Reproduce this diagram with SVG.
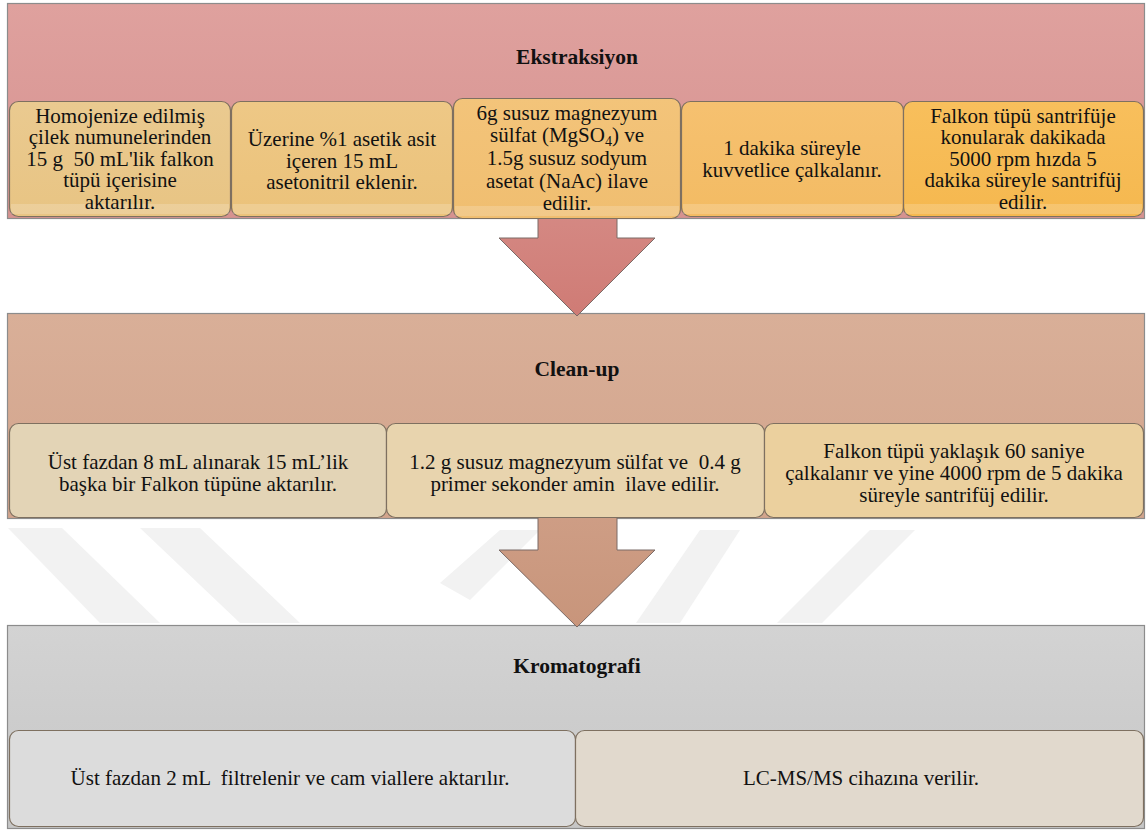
<svg xmlns="http://www.w3.org/2000/svg" width="1148" height="831" viewBox="0 0 1148 831">
<defs>
<linearGradient id="gBand1" x1="0" y1="0" x2="0" y2="1"><stop offset="0" stop-color="#DFA19E"/><stop offset="1" stop-color="#D69290"/></linearGradient>
<linearGradient id="gBand2" x1="0" y1="0" x2="0" y2="1"><stop offset="0" stop-color="#D9AF98"/><stop offset="1" stop-color="#D2A48C"/></linearGradient>
<linearGradient id="gBand3" x1="0" y1="0" x2="0" y2="1"><stop offset="0" stop-color="#D3D3D3"/><stop offset="1" stop-color="#C6C6C6"/></linearGradient>
<linearGradient id="gArr1" x1="0" y1="0" x2="0" y2="1"><stop offset="0" stop-color="#D8918C"/><stop offset="1" stop-color="#CF7B75"/></linearGradient>
<linearGradient id="gArr2" x1="0" y1="0" x2="0" y2="1"><stop offset="0" stop-color="#D0A088"/><stop offset="1" stop-color="#C8957B"/></linearGradient>
<linearGradient id="gb1" x1="0" y1="0" x2="0" y2="1"><stop offset="0" stop-color="#EACA90"/><stop offset="1" stop-color="#E8C483"/></linearGradient>
<linearGradient id="gb2" x1="0" y1="0" x2="0" y2="1"><stop offset="0" stop-color="#EEC886"/><stop offset="1" stop-color="#EBC27A"/></linearGradient>
<linearGradient id="gb3" x1="0" y1="0" x2="0" y2="1"><stop offset="0" stop-color="#F3C47A"/><stop offset="1" stop-color="#F0BE70"/></linearGradient>
<linearGradient id="gb4" x1="0" y1="0" x2="0" y2="1"><stop offset="0" stop-color="#F6C170"/><stop offset="1" stop-color="#F3BB63"/></linearGradient>
<linearGradient id="gb5" x1="0" y1="0" x2="0" y2="1"><stop offset="0" stop-color="#F8BF5C"/><stop offset="1" stop-color="#F5B84F"/></linearGradient>
</defs>
<style>
.band{stroke:#8C8C8C;stroke-width:1.2}
.box{stroke:#7E7060;stroke-width:1.2}
.arrow{stroke:#7A6A66;stroke-width:1}
.gloss{fill:#FFFFFF;opacity:0.18}
.t{font-family:"Liberation Serif","Times New Roman",serif;font-size:21px;fill:#111;text-anchor:middle;white-space:pre}
.h{font-family:"Liberation Serif","Times New Roman",serif;font-size:21.5px;font-weight:bold;fill:#111;text-anchor:middle}
.wm{fill:#F2F2F2}
</style>
<rect width="1148" height="831" fill="#FFFFFF"/>
<g id="watermark">
<polygon class="wm" points="8,528 62,528 160,623 100,623"/>
<polygon class="wm" points="140,528 200,528 300,623 240,623"/>
<polygon class="wm" points="440,583 500,530 540,530 470,600"/>
<polygon class="wm" points="636,623 700,530 740,530 680,623"/>
<polygon class="wm" points="777,623 870,530 915,530 822,623"/>
</g>
<g id="band-ekstraksiyon">
<rect class="band" x="7.5" y="3.5" width="1137" height="215" fill="url(#gBand1)"/>
<text class="h" x="577" y="64">Ekstraksiyon</text>
</g>
<g id="band-cleanup">
<rect class="band" x="7.5" y="313.5" width="1137" height="205" fill="url(#gBand2)"/>
<text class="h" x="577" y="376">Clean-up</text>
</g>
<g id="band-kromatografi">
<rect class="band" x="7.5" y="625.5" width="1137" height="203" fill="url(#gBand3)"/>
<text class="h" x="577" y="673">Kromatografi</text>
</g>
<g id="connectors">
<polygon class="arrow" points="538,150 617,150 617,238 655,238 577,316 499,238 538,238" fill="url(#gArr1)"/>
<polygon class="arrow" points="538,480 617,480 617,550 655,550 577,627 499,550 538,550" fill="url(#gArr2)"/>
</g>
<g id="box-e1">
<rect class="box" x="9.5" y="101.5" width="221" height="115" rx="9" fill="url(#gb1)"/>
<rect class="gloss" x="11" y="204" width="218" height="10"/>
<text class="t" xml:space="preserve"><tspan x="120" y="123">Homojenize edilmiş</tspan><tspan x="120" y="144">çilek numunelerinden</tspan><tspan x="120" y="166">15 g  50 mL'lik falkon</tspan><tspan x="120" y="187">tüpü içerisine</tspan><tspan x="120" y="209">aktarılır.</tspan></text>
</g>
<g id="box-e2">
<rect class="box" x="231.5" y="101.5" width="221" height="115" rx="9" fill="url(#gb2)"/>
<rect class="gloss" x="233" y="204" width="218" height="10"/>
<text class="t"><tspan x="342" y="146">Üzerine %1 asetik asit</tspan><tspan x="342" y="168">içeren 15 mL</tspan><tspan x="342" y="189">asetonitril eklenir.</tspan></text>
</g>
<g id="box-e3">
<rect class="box" x="453.5" y="98.5" width="227" height="120" rx="9" fill="url(#gb3)"/>
<rect class="gloss" x="455" y="206" width="224" height="10"/>
<text class="t"><tspan x="567" y="120">6g susuz magnezyum</tspan><tspan x="567" y="142">sülfat (MgSO<tspan font-size="14" baseline-shift="-4">4</tspan>) ve</tspan><tspan x="567" y="165">1.5g susuz sodyum</tspan><tspan x="567" y="188">asetat (NaAc) ilave</tspan><tspan x="567" y="210">edilir.</tspan></text>
</g>
<g id="box-e4">
<rect class="box" x="681.5" y="101.5" width="222" height="115" rx="9" fill="url(#gb4)"/>
<rect class="gloss" x="683" y="204" width="219" height="10"/>
<text class="t"><tspan x="792" y="155">1 dakika süreyle</tspan><tspan x="792" y="177">kuvvetlice çalkalanır.</tspan></text>
</g>
<g id="box-e5">
<rect class="box" x="903.5" y="101.5" width="240" height="115" rx="9" fill="url(#gb5)"/>
<rect class="gloss" x="905" y="204" width="237" height="10"/>
<text class="t"><tspan x="1023" y="123">Falkon tüpü santrifüje</tspan><tspan x="1023" y="144">konularak dakikada</tspan><tspan x="1023" y="166">5000 rpm hızda 5</tspan><tspan x="1023" y="187">dakika süreyle santrifüj</tspan><tspan x="1023" y="209">edilir.</tspan></text>
</g>
<g id="box-c1">
<rect class="box" x="9.5" y="423.5" width="377" height="94" rx="9" fill="#E3D4B6"/>
<text class="t"><tspan x="198" y="469">Üst fazdan 8 mL alınarak 15 mL’lik</tspan><tspan x="198" y="491">başka bir Falkon tüpüne aktarılır.</tspan></text>
</g>
<g id="box-c2">
<rect class="box" x="386.5" y="423.5" width="378" height="94" rx="9" fill="#E8D4AE"/>
<text class="t" xml:space="preserve"><tspan x="575" y="469">1.2 g susuz magnezyum sülfat ve  0.4 g</tspan><tspan x="575" y="491">primer sekonder amin  ilave edilir.</tspan></text>
</g>
<g id="box-c3">
<rect class="box" x="764.5" y="423.5" width="379" height="94" rx="9" fill="#EBD09E"/>
<text class="t"><tspan x="954" y="458">Falkon tüpü yaklaşık 60 saniye</tspan><tspan x="954" y="480">çalkalanır ve yine 4000 rpm de 5 dakika</tspan><tspan x="954" y="502">süreyle santrifüj edilir.</tspan></text>
</g>
<g id="box-k1">
<rect class="box" x="9.5" y="730.5" width="566" height="96" rx="9" fill="#DCDCDC" stroke="#8A8A8A"/>
<text class="t" xml:space="preserve" x="290" y="785">Üst fazdan 2 mL  filtrelenir ve cam viallere aktarılır.</text>
</g>
<g id="box-k2">
<rect class="box" x="575.5" y="730.5" width="568" height="96" rx="9" fill="#E1D9CD" stroke="#8A8A8A"/>
<text class="t" x="861" y="785">LC-MS/MS cihazına verilir.</text>
</g>
</svg>
